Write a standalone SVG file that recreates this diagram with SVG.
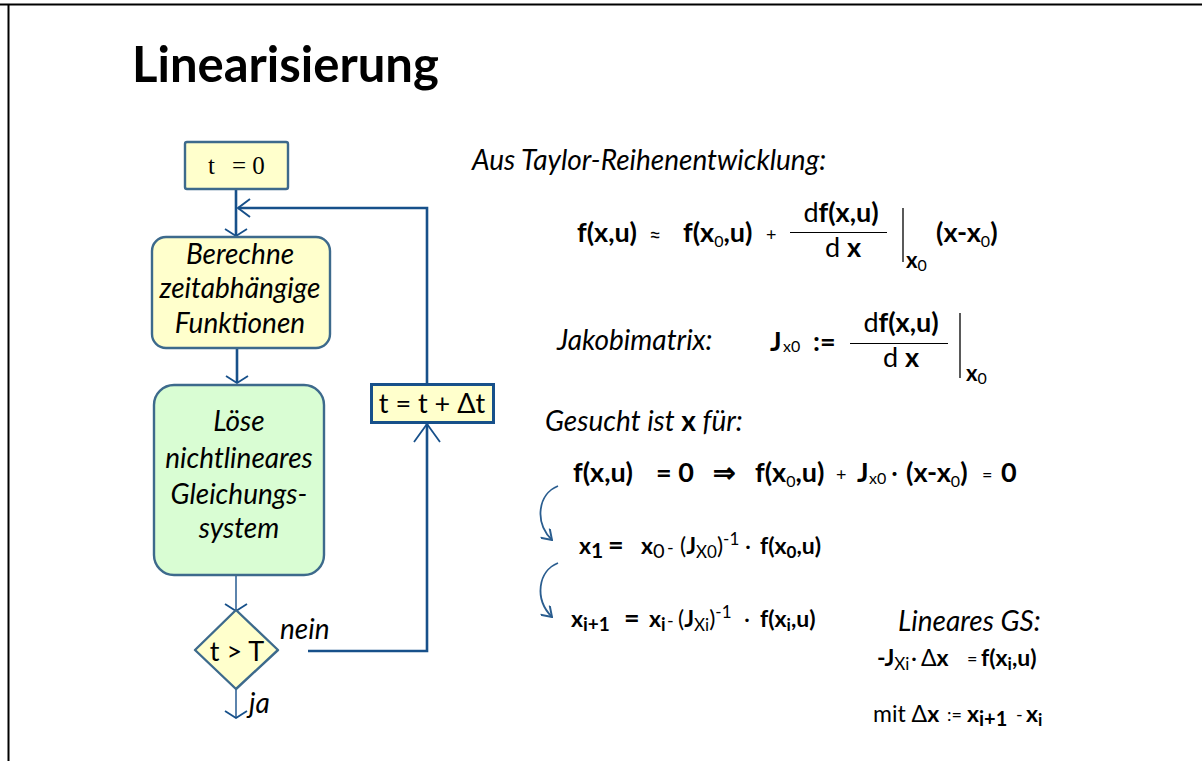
<svg xmlns="http://www.w3.org/2000/svg" width="1202" height="761" viewBox="0 0 1202 761">
<defs>
<style>
text{font-family:Lato,"Open Sans","Liberation Sans",sans-serif;fill:#000}
text.ser{font-family:"Liberation Serif","DejaVu Serif",serif;font-size:25px}
.it{font-style:italic;font-size:28px}
.m{font-size:27px}
.b{font-weight:bold}
.s{font-size:16px;font-weight:normal}
.op{font-size:18px;font-weight:normal}
.sm{font-size:23px}
.node{stroke:#3d6a8c;stroke-width:2.4}
.y{fill:#ffffcc}
.g{fill:#d9fdd3}
.con{fill:none;stroke:#17508a;stroke-width:2.6}
.thin{fill:none;stroke:#17508a;stroke-width:1.4}
.crv{fill:none;stroke:#2a5d8f;stroke-width:1.8}
</style>
<marker id="dn" viewBox="0 0 12 24" refX="11" refY="12" markerWidth="12" markerHeight="24" markerUnits="userSpaceOnUse" orient="auto">
<path d="M4,1 L11,12 L4,23" fill="none" stroke="#17508a" stroke-width="1.8"/>
</marker>
<marker id="lf" viewBox="0 0 14 20" refX="13" refY="10" markerWidth="14" markerHeight="20" markerUnits="userSpaceOnUse" orient="auto">
<path d="M1,1 L13,10 L1,19" fill="none" stroke="#17508a" stroke-width="2"/>
</marker>
<marker id="up" viewBox="0 0 20 28" refX="19" refY="14" markerWidth="20" markerHeight="28" markerUnits="userSpaceOnUse" orient="auto">
<path d="M1,1 L19,14 L1,27" fill="none" stroke="#17508a" stroke-width="1.8"/>
</marker>
<marker id="cr" viewBox="0 0 12 12" refX="11" refY="6" markerWidth="13" markerHeight="13" markerUnits="userSpaceOnUse" orient="auto">
<path d="M2,0 L11,6 L2,12" fill="none" stroke="#2a5d8f" stroke-width="1.8"/>
</marker>
</defs>
<rect width="1202" height="761" fill="#fff"/>
<path d="M0,4.5 H1202 M8.5,4 V761" stroke="#000" stroke-width="2" fill="none"/>
<text x="132" y="82" font-size="49" font-weight="bold">Linearisierung</text>

<g id="connectors">
<path class="con" d="M236,189 V236" marker-end="url(#dn)"/>
<path class="con" d="M427,384 V208 H238" marker-end="url(#lf)"/>
<path class="con" d="M237,348 V383" marker-end="url(#dn)"/>
<path class="thin" d="M236,575 V611" marker-end="url(#dn)"/>
<path class="con" d="M308,651 H427 V424" marker-end="url(#up)"/>
<path class="thin" d="M236,689 V718" marker-end="url(#dn)"/>
<path class="crv" d="M558,486 C538,494 534,522 552,540" marker-end="url(#cr)"/>
<path class="crv" d="M558,563 C538,571 534,599 552,617" marker-end="url(#cr)"/>
</g>

<g id="n-t0">
<rect class="node y" x="185" y="142" width="103" height="47" rx="2"/>
<text class="ser" x="208" y="174">t</text>
<text class="ser" x="232" y="174">= 0</text>
</g>
<g id="n-berechne">
<rect class="node y" x="152" y="237" width="178" height="111" rx="14"/>
<text class="it" x="240" y="264" text-anchor="middle">Berechne</text>
<text class="it" x="240" y="298" text-anchor="middle">zeitabhängige</text>
<text class="it" x="240" y="333" text-anchor="middle">Funktionen</text>
</g>
<g id="n-loese">
<rect class="node g" x="154" y="385" width="170" height="190" rx="20"/>
<text class="it" x="239" y="431" text-anchor="middle">Löse</text>
<text class="it" x="239" y="468" text-anchor="middle">nichtlineares</text>
<text class="it" x="239" y="504" text-anchor="middle">Gleichungs-</text>
<text class="it" x="239" y="538" text-anchor="middle">system</text>
</g>
<g id="n-tT">
<path class="node y" d="M236,610 L278,650 L236,689 L195,650 Z" stroke-linejoin="round"/>
<text x="237" y="661" font-size="27" text-anchor="middle">t &gt; T</text>
</g>
<g id="n-tdt">
<rect x="371.5" y="384.5" width="122" height="38" fill="#ffffcc" stroke="#17508a" stroke-width="3"/>
<text x="432" y="413" font-size="27" text-anchor="middle">t = t + Δt</text>
</g>
<text class="it" x="280" y="639">nein</text>
<text class="it" x="249" y="713">ja</text>

<g id="math">
<text class="it" x="472" y="170">Aus Taylor-Reihenentwicklung:</text>
<text class="m b" x="577" y="242">f(x,u)</text>
<text x="649" y="242" font-size="21">≈</text>
<text class="m b" x="683" y="242">f(x<tspan class="s" dy="5">0</tspan><tspan dy="-5">,u)</tspan></text>
<text class="op" x="766" y="241">+</text>
<text class="m" x="841" y="222" text-anchor="middle">d<tspan class="b">f(x,u)</tspan></text>
<path d="M790,232.5 H887" stroke="#000" stroke-width="1"/>
<text class="m" x="843" y="257" text-anchor="middle">d <tspan class="b">x</tspan></text>
<path d="M903,208 V262" stroke="#000" stroke-width="1.3"/>
<text x="906" y="268" font-size="22" class="b">x<tspan class="s" dy="3">0</tspan></text>
<text class="m b" x="936" y="242">(x-x<tspan class="s" dy="5">0</tspan><tspan dy="-5">)</tspan></text>

<text class="it" x="557" y="350">Jakobimatrix:</text>
<text class="m b" x="770" y="351">J</text>
<text class="s" x="783" y="352">x0</text>
<text class="m b" x="813" y="351">:=</text>
<text class="m" x="901" y="332" text-anchor="middle">d<tspan class="b">f(x,u)</tspan></text>
<path d="M850,343.5 H948" stroke="#000" stroke-width="1"/>
<text class="m" x="901" y="367" text-anchor="middle">d <tspan class="b">x</tspan></text>
<path d="M960,313 V378" stroke="#000" stroke-width="1.3"/>
<text x="966" y="381" font-size="22" class="b">x<tspan class="s" dy="3">0</tspan></text>

<text class="it" x="545" y="431">Gesucht ist <tspan class="b" font-style="normal">x</tspan> für:</text>

<text class="m b" x="573" y="482">f(x,u)</text>
<text class="m b" x="656" y="482">= 0</text>
<text class="m b" x="713" y="482">⇒</text>
<text class="m b" x="755" y="482">f(x<tspan class="s" dy="5">0</tspan><tspan dy="-5">,u)</tspan></text>
<text class="op" x="836" y="481">+</text>
<text class="m b" x="857" y="482">J</text>
<text class="s" x="869" y="484">x0</text>
<text class="m" x="891" y="482">·</text>
<text class="m b" x="906" y="482">(x-x<tspan class="s" dy="5">0</tspan><tspan dy="-5">)</tspan></text>
<text class="op" x="982" y="481">=</text>
<text class="m b" x="1001" y="482">0</text>

<text class="sm b" x="579" y="554">x<tspan dy="4" font-size="21">1</tspan></text>
<text class="b" x="608" y="554" font-size="27">=</text>
<text class="sm" x="641" y="554"><tspan class="b">x</tspan><tspan dy="4" font-size="20">0</tspan></text>
<text class="op" x="667" y="554">-</text>
<text class="sm" x="680" y="554">(<tspan class="b">J</tspan><tspan font-size="17" dy="4">X0</tspan><tspan dy="-4">)</tspan><tspan font-size="17" dy="-9">-1</tspan></text>
<text class="sm" x="745" y="554">·</text>
<text class="sm b" x="760" y="554">f(x<tspan font-size="17" dy="4">0</tspan><tspan dy="-4">,u)</tspan></text>

<text class="sm b" x="571" y="627">x<tspan font-size="19" dy="4">i+1</tspan></text>
<text class="b" x="624" y="627" font-size="27">=</text>
<text class="sm b" x="649" y="627">x<tspan font-size="18" dy="4">i</tspan></text>
<text class="op" x="667" y="627">-</text>
<text class="sm" x="678" y="627">(<tspan class="b">J</tspan><tspan font-size="17" dy="4">Xi</tspan><tspan dy="-4">)</tspan><tspan font-size="17" dy="-9">-1</tspan></text>
<text class="sm" x="744" y="627">·</text>
<text class="sm b" x="760" y="627">f(x<tspan font-size="17" dy="4">i</tspan><tspan dy="-4">,u)</tspan></text>

<text class="it" x="898" y="631">Lineares GS:</text>
<text class="sm b" x="877" y="666">-J<tspan font-size="17" font-weight="normal" dy="4">Xi</tspan></text>
<text class="sm" x="911" y="666">·</text>
<text class="sm" x="921" y="666">Δ<tspan class="b">x</tspan></text>
<text class="op" x="967" y="665">=</text>
<text class="sm b" x="981" y="666">f(x<tspan font-size="17" dy="4">i</tspan><tspan dy="-4">,u)</tspan></text>

<text class="sm" x="873" y="722">mit Δ<tspan class="b">x</tspan></text>
<text class="op" x="947" y="721">:=</text>
<text class="sm b" x="967" y="722">x<tspan dy="4" font-size="20">i+1</tspan></text>
<text class="op" x="1016" y="721">-</text>
<text class="sm b" x="1026" y="722">x<tspan font-size="17" dy="4">i</tspan></text>
</g>
</svg>
